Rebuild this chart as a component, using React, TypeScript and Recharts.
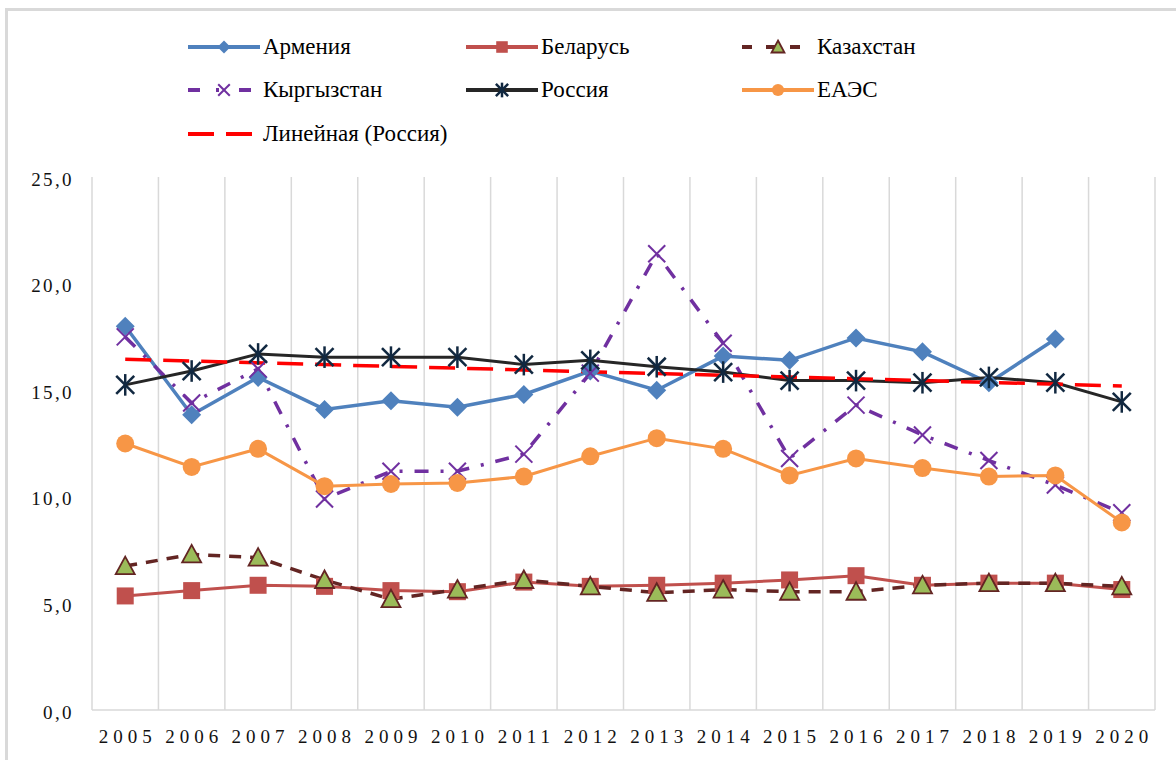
import React from "react";
import { LineChart, Line, XAxis, YAxis, CartesianGrid, ReferenceLine } from "recharts";

const years = ["2005", "2006", "2007", "2008", "2009", "2010", "2011", "2012", "2013", "2014", "2015", "2016", "2017", "2018", "2019", "2020"];
const armenia = [18.0, 13.85, 15.6, 14.1, 14.5, 14.2, 14.8, 15.9, 15.0, 16.6, 16.4, 17.45, 16.8, 15.35, 17.4, null];
const belarus = [5.35, 5.6, 5.85, 5.8, 5.6, 5.55, 6.0, 5.8, 5.85, 5.95, 6.1, 6.3, 5.85, 5.95, 5.95, 5.65];
const kazakhstan = [6.75, 7.3, 7.15, 6.1, 5.2, 5.65, 6.1, 5.8, 5.5, 5.65, 5.55, 5.55, 5.85, 5.95, 5.95, 5.8];
const kyrgyzstan = [17.5, 14.4, 16.0, 9.9, 11.2, 11.2, 12.0, 15.8, 21.4, 17.2, 11.8, 14.3, 12.9, 11.7, 10.55, 9.25];
const russia = [15.25, 15.9, 16.7, 16.55, 16.55, 16.55, 16.2, 16.4, 16.1, 15.85, 15.45, 15.45, 15.35, 15.6, 15.35, 14.45];
const eaes = [12.5, 11.4, 12.25, 10.5, 10.6, 10.65, 10.95, 11.9, 12.75, 12.25, 11.0, 11.8, 11.35, 10.95, 11.0, 8.8];
// linear trend for Russia, read at first and last year
const trendStart = 16.45;
const trendEnd = 15.2;
const yTicks = [0, 5, 10, 15, 20, 25];

const data = years.map((year, i) => ({
  year,
  armenia: armenia[i],
  belarus: belarus[i],
  kazakhstan: kazakhstan[i],
  kyrgyzstan: kyrgyzstan[i],
  russia: russia[i],
  eaes: eaes[i],
}));

const FONT = "Liberation Serif, Tinos, DejaVu Serif, serif";

const C = {
  armenia: "#4F81BD",
  belarus: "#C0504D",
  kazLine: "#632523",
  kazFill: "#9BBB59",
  kyrg: "#7030A0",
  russia: "#262626",
  russiaMark: "#112840",
  eaes: "#F79646",
  trend: "#FF0000",
};

type M = { cx: number; cy: number; s?: number };

const Diamond = ({ cx, cy, s = 1 }: M) => {
  const r = 9.5 * s;
  return <polygon points={`${cx},${cy - r} ${cx + r},${cy} ${cx},${cy + r} ${cx - r},${cy}`} fill={C.armenia} />;
};
const Square = ({ cx, cy, s = 1 }: M) => {
  const r = 8.5 * s;
  return <rect x={cx - r} y={cy - r} width={2 * r} height={2 * r} fill={C.belarus} />;
};
const Triangle = ({ cx, cy, s = 1 }: M) => {
  const r = 9.5 * s;
  return (
    <polygon
      points={`${cx},${cy - r} ${cx + r},${cy + r * 0.85} ${cx - r},${cy + r * 0.85}`}
      fill={C.kazFill}
      stroke={C.kazLine}
      strokeWidth={1.8}
    />
  );
};
const Cross = ({ cx, cy, s = 1 }: M) => {
  const r = 8.5 * s;
  return (
    <g stroke={C.kyrg} strokeWidth={2}>
      <line x1={cx - r} y1={cy - r} x2={cx + r} y2={cy + r} />
      <line x1={cx - r} y1={cy + r} x2={cx + r} y2={cy - r} />
    </g>
  );
};
const Star = ({ cx, cy, s = 1 }: M) => {
  const r = 9 * s;
  return (
    <g stroke={C.russiaMark} strokeWidth={2.5}>
      <line x1={cx - r} y1={cy - r} x2={cx + r} y2={cy + r} />
      <line x1={cx - r} y1={cy + r} x2={cx + r} y2={cy - r} />
      <line x1={cx} y1={cy - r * 1.2} x2={cx} y2={cy + r * 1.2} />
    </g>
  );
};
const Circle = ({ cx, cy, s = 1 }: M) => <circle cx={cx} cy={cy} r={9 * s} fill={C.eaes} />;

const dotOf = (Shape: React.FC<M>) => (p: any) => {
  if (p.cy == null || p.value == null) return <g key={p.index} />;
  return <Shape key={p.index} cx={p.cx} cy={p.cy} />;
};

const legendItems = [
  { name: "Армения", color: C.armenia, dash: undefined, Marker: Diamond },
  { name: "Беларусь", color: C.belarus, dash: undefined, Marker: Square },
  { name: "Казахстан", color: C.kazLine, dash: "10 14", Marker: Triangle },
  { name: "Кыргызстан", color: C.kyrg, dash: "12 16 3 20", Marker: Cross },
  { name: "Россия", color: C.russia, dash: undefined, Marker: Star },
  { name: "ЕАЭС", color: C.eaes, dash: undefined, Marker: Circle },
  { name: "Линейная (Россия)", color: C.trend, dash: "26 12", Marker: null },
];
const legendCols = [188, 466, 742];
const legendRows = [47, 90, 134];

const YTick = ({ x, y, payload }: any) => (
  <text x={x + 2} y={y + 8.5} textAnchor="end" fontFamily={FONT} fontSize={19} letterSpacing={2.4} fill="#111">
    {Number(payload.value).toFixed(1).replace(".", ",")}
  </text>
);

const XTick = ({ x, y, payload }: any) => (
  <text x={x + 2.5} y={y + 33} textAnchor="middle" fontFamily={FONT} fontSize={19} letterSpacing={5} fill="#111">
    {payload.value}
  </text>
);

function Legend() {
  return (
    <>
      {legendItems.map((it, i) => {
        const left = legendCols[i % 3];
        const top = legendRows[Math.floor(i / 3)];
        return (
          <div key={it.name} style={{ position: "absolute", left, top: top - 15, height: 30, display: "flex", alignItems: "center" }}>
            <svg width={74} height={30} style={{ display: "block" }}>
              <line x1={0} y1={15} x2={72} y2={15} stroke={it.color} strokeWidth={4} strokeDasharray={it.dash} />
              {it.Marker && <it.Marker cx={36} cy={15} s={0.68} />}
            </svg>
            <span style={{ fontFamily: FONT, fontSize: 23, color: "#000", marginLeft: 1, whiteSpace: "nowrap", lineHeight: "30px" }}>{it.name}</span>
          </div>
        );
      })}
    </>
  );
}

export default function App() {
  return (
    <div style={{ position: "absolute", left: 0, top: 0, width: 1176, height: 760, overflow: "hidden", background: "#fff" }}>
      <div
        style={{
          position: "absolute",
          left: 5,
          top: 8,
          width: 1300,
          height: 900,
          borderTop: "3px solid #d9d9d9",
          borderLeft: "3px solid #d9d9d9",
        }}
      />
      <Legend />
      <div style={{ position: "absolute", left: 0, top: 0 }}>
        <LineChart width={1176} height={760} data={data} margin={{ top: 177, right: 21, bottom: 0, left: 0 }}>
          <CartesianGrid
            horizontal={false}
            stroke="#d9d9d9"
            strokeWidth={1.5}
            verticalCoordinatesGenerator={({ offset }: any) =>
              years.concat("end").map((_, i) => offset.left + (i * offset.width) / years.length)
            }
          />
          <XAxis
            dataKey="year"
            scale="band"
            height={50}
            tickSize={0}
            tickMargin={0}
            axisLine={{ stroke: "#d9d9d9", strokeWidth: 1.5 }}
            tickLine={false}
            tick={<XTick />}
            interval={0}
          />
          <YAxis
            width={92}
            domain={[0, 25]}
            ticks={yTicks}
            axisLine={false}
            tickLine={false}
            tickSize={0}
            tickMargin={20}
            tick={<YTick />}
          />
          <Line dataKey="armenia" stroke={C.armenia} strokeWidth={3.5} dot={dotOf(Diamond)} activeDot={false} isAnimationActive={false} />
          <Line dataKey="belarus" stroke={C.belarus} strokeWidth={3} dot={dotOf(Square)} activeDot={false} isAnimationActive={false} />
          <Line dataKey="kazakhstan" stroke={C.kazLine} strokeWidth={3.5} strokeDasharray="12 9" dot={dotOf(Triangle)} activeDot={false} isAnimationActive={false} />
          <Line dataKey="kyrgyzstan" stroke={C.kyrg} strokeWidth={3.5} strokeDasharray="14 12 3 12" dot={dotOf(Cross)} activeDot={false} isAnimationActive={false} />
          <Line dataKey="russia" stroke={C.russia} strokeWidth={3} dot={dotOf(Star)} activeDot={false} isAnimationActive={false} />
          <Line dataKey="eaes" stroke={C.eaes} strokeWidth={3} dot={dotOf(Circle)} activeDot={false} isAnimationActive={false} />
          <ReferenceLine
            segment={[
              { x: years[0], y: trendStart },
              { x: years[years.length - 1], y: trendEnd },
            ]}
            stroke={C.trend}
            strokeWidth={3.5}
            strokeDasharray="26 12"
          />
        </LineChart>
      </div>
    </div>
  );
}
